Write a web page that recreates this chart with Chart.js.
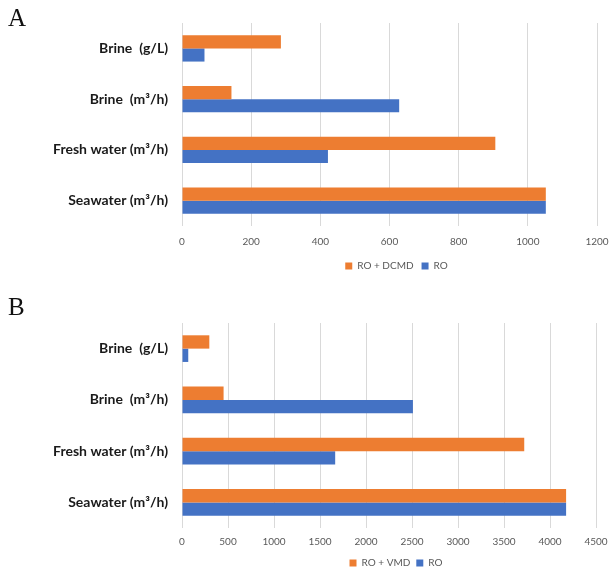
<!DOCTYPE html>
<html lang="en">
<head>
<meta charset="utf-8">
<title>RO vs RO + MD</title>
<script src="https://cdn.jsdelivr.net/npm/chart.js@4.4.1/dist/chart.umd.min.js"></script>
<style>
body {margin: 0; background: #fff;}
.panel {position: relative; width: 610px;}
.tag {position: absolute; left: 8px; font-family: "Liberation Serif", serif; font-size: 25px; color: #111;}
canvas {display: block;}
</style>
</head>
<body>
<div class="panel" style="height:280px">
  <div class="tag" style="top:4px">A</div>
  <canvas id="chartA" width="610" height="280"></canvas>
</div>
<div class="panel" style="height:289px">
  <div class="tag" style="top:13px">B</div>
  <canvas id="chartB" width="610" height="289"></canvas>
</div>

<script>
// categories (top to bottom)
const categories = ['Brine  (g/L)', 'Brine  (m³/h)', 'Fresh water (m³/h)', 'Seawater (m³/h)'];

// panel A : RO vs RO + DCMD
const roA = [65, 628, 422, 1052];
const roDcmd = [286, 143, 906, 1052];
const ticksA = {min: 0, max: 1200, step: 200};

// panel B : RO vs RO + VMD
const roB = [68, 2510, 1665, 4175];
const roVmd = [297, 452, 3720, 4175];
const ticksB = {min: 0, max: 4500, step: 500};

const orange = '#ed7d31';
const blue = '#4472c4';

// centre the legend under the plot area (a bit right of it, like the original)
const legendUnderPlot = {
	id: 'legendUnderPlot',
	afterLayout(chart) {
		const lg = chart.legend;
		lg.left = chart.chartArea.left + 7;
		lg.right = chart.chartArea.right + 7;
		lg.width = lg.right - lg.left;
	}
};

function makeChart(id, label1, data1, data2, ticks, pad) {
	const ctx = document.getElementById(id).getContext('2d');
	return new Chart(ctx, {
		type: 'bar',
		data: {
			labels: categories,
			datasets: [{
				label: label1,
				data: data1,
				backgroundColor: orange,
				borderWidth: 0,
				categoryPercentage: 0.52,
				barPercentage: 1
			}, {
				label: 'RO',
				data: data2,
				backgroundColor: blue,
				borderWidth: 0,
				categoryPercentage: 0.52,
				barPercentage: 1
			}]
		},
		options: {
			indexAxis: 'y',
			responsive: false,
			animation: false,
			layout: {padding: {top: pad.top, right: 0, bottom: pad.bottom}},
			plugins: {
				tooltip: {enabled: false},
				legend: {
					position: 'bottom',
					labels: {
						boxWidth: 7,
						boxHeight: 7,
						padding: pad.legend,
						color: '#595959',
						font: {family: 'Lato', size: 10}
					}
				}
			},
			scales: {
				x: {
					min: ticks.min,
					max: ticks.max,
					grid: {color: '#d9d9d9', drawTicks: false},
					border: {display: false},
					ticks: {
						stepSize: ticks.step,
						padding: pad.tick,
						color: '#595959',
						font: {family: 'Lato', size: 10},
						callback: function (v) { return String(v); }
					},
					afterFit: function (scale) {
						scale.height = pad.xh;
						scale.paddingRight = pad.right;
					}
				},
				y: {
					grid: {display: false, drawTicks: false},
					border: {display: false},
					ticks: {
						padding: 14,
						color: '#1a1a1a',
						font: {family: 'Lato', size: 14, weight: 'bold'}
					},
					afterFit: function (scale) {
						scale.width = 182;
					}
				}
			}
		},
		plugins: [legendUnderPlot]
	});
}

makeChart('chartA', 'RO + DCMD', roDcmd, roA, ticksA, {top: 23, right: 13, bottom: -1, legend: 8, tick: 10, xh: 27});
makeChart('chartB', 'RO + VMD', roVmd, roB, ticksB, {top: 43, right: 14, bottom: -9, legend: 6, tick: 8, xh: 24});
</script>
</body>
</html>
